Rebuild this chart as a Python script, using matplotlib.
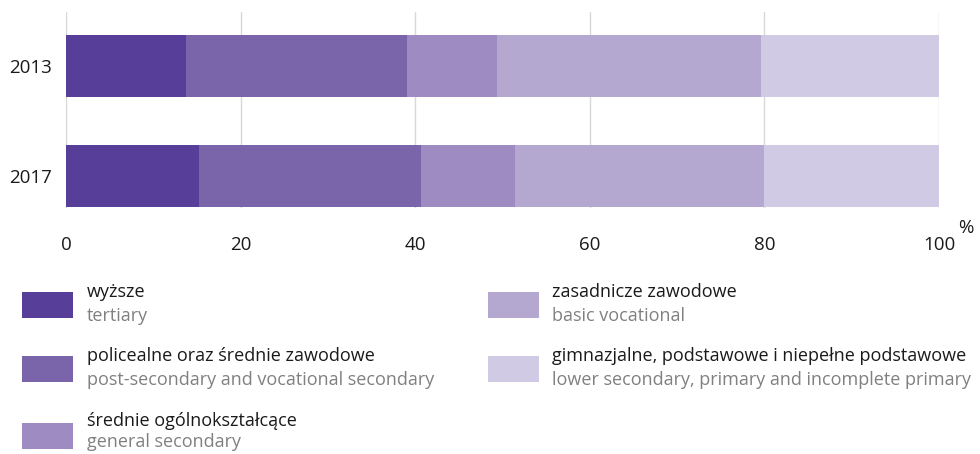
import matplotlib
matplotlib.use("Agg")
import matplotlib.pyplot as plt
from matplotlib.patches import Rectangle

plt.rcParams['font.family'] = ['Open Sans', 'DejaVu Sans']

years = ["2013", "2017"]
cats_pl = ["wyższe", "policealne oraz średnie zawodowe", "średnie ogólnokształcące",
           "zasadnicze zawodowe", "gimnazjalne, podstawowe i niepełne podstawowe"]
cats_en = ["tertiary", "post-secondary and vocational secondary", "general secondary",
           "basic vocational", "lower secondary, primary and incomplete primary"]
values = {
    "2013": [13.7, 25.4, 10.3, 30.2, 20.4],
    "2017": [15.2, 25.5, 10.7, 28.6, 20.0],
}
colors = ["#573e98", "#7a65ab", "#9d8bc1", "#b4a8d0", "#d0cae4"]
xticks = [0, 20, 40, 60, 80, 100]

W, H = 980, 454
fig = plt.figure(figsize=(W / 100, H / 100), dpi=100)
ax = fig.add_axes([66 / W, 1 - 208 / H, (939 - 66) / W, (208 - 12) / H])

ypos = list(range(len(years)))
for yi, yr in zip(ypos, years):
    left = 0
    for v, c in zip(values[yr], colors):
        ax.barh(yi, v, left=left, height=0.564, color=c, linewidth=0, zorder=2)
        left += v

ax.set_xlim(0, 100)
ax.set_ylim(1.291, -0.491)
ax.set_xticks(xticks)
ax.set_xticklabels([str(t) for t in xticks], fontsize=13.5, color="#1a1a1a")
ax.set_yticks(ypos)
ax.set_yticklabels(years, fontsize=13.5, color="#1a1a1a")
ax.tick_params(axis="x", length=0, pad=20)
ax.tick_params(axis="y", length=0, pad=10)
ax.grid(axis="x", color="#d8d8d8", linewidth=1, zorder=0)
for s in ax.spines.values():
    s.set_visible(False)

fig.text(966 / W, 1 - 228 / H, "%", fontsize=13.5, color="#1a1a1a", ha="center", va="center")

# legend: (swatch x, swatch top y, text x, polish y, english y)
entries = [
    (22, 292, 87, 292, 316),
    (22, 356, 87, 356, 380),
    (22, 423, 87, 421, 442),
    (488, 292, 552, 292, 316),
    (488, 356, 552, 356, 380),
]
for i, (sx, sy, tx, py, ey) in enumerate(entries):
    fig.patches.append(Rectangle((sx / W, 1 - (sy + 26) / H), 51 / W, 26 / H,
                                 transform=fig.transFigure, color=colors[i], linewidth=0))
    fig.text(tx / W, 1 - py / H, cats_pl[i], fontsize=13, color="#1a1a1a",
             ha="left", va="center")
    fig.text(tx / W, 1 - ey / H, cats_en[i], fontsize=13, color="#808080",
             ha="left", va="center")

fig.savefig("out.png", dpi=100)
